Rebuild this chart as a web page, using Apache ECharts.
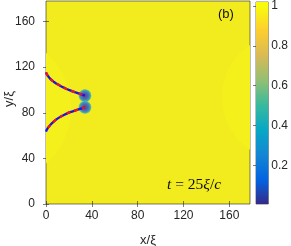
<!DOCTYPE html>
<html><head><meta charset="utf-8">
<script src="https://cdn.jsdelivr.net/npm/echarts@6/dist/echarts.min.js"></script>
<style>html,body{margin:0;padding:0;background:#fff}#c{width:291px;height:246px}</style>
</head><body><div id="c"></div>
<script>
// ---- data ----
const xTicks = [0, 40, 80, 120, 160];
const yTicks = [0, 40, 80, 120, 160];
const cbTicks = [0.2, 0.4, 0.6, 0.8, 1];
const axisRange = [0, 178];
const cbRange = [0.005, 1.02];
// vortex cores [x, y]
const vortices = [[34, 95], [34, 84.8]];
// upper string (domain wall) from left edge to upper vortex
const upperString = [[0,115.5],[1.5,112.5],[4,109.5],[7,107],[11,104.5],[16,101.8],[21,99.6],[27,97.5],[34,95]];
// lower string from left edge to lower vortex
const lowerString = [[0,63.5],[1.5,66.5],[4,69.5],[7,72.5],[11,75.5],[16,78.3],[21,80.5],[27,82.5],[34,84.8]];
// faint radiation fronts: [cx, cy, radius]
const fronts = [[-42, 84, 64], [208.6, 93.5, 55]];
// parula colormap stops [value, color]
const parula = [[0,'#352A87'],[0.125,'#0363E1'],[0.25,'#1485D4'],[0.375,'#06A7C6'],[0.5,'#38B99E'],[0.625,'#92BF73'],[0.75,'#D9BA56'],[0.875,'#FCCE2E'],[1,'#F9FB0E']];

const chart = echarts.init(document.getElementById('c'), null, {renderer:'canvas'});
const txt = '#262626';
const frame = 'rgba(38,38,38,0.6)';
const tickCommon = {show:true, inside:true, length:3, lineStyle:{color:frame, width:1}};
function mkX(pos, labels){
  return {type:'value', gridIndex:0, position:pos, min:axisRange[0], max:axisRange[1], interval:40,
    axisLine:{show:false}, splitLine:{show:false},
    axisTick:Object.assign({customValues:xTicks}, tickCommon),
    axisLabel:{show:labels, customValues:xTicks, color:txt, fontSize:12, fontFamily:'Liberation Sans', margin:6}};
}
function mkY(pos, labels){
  return {type:'value', gridIndex:0, position:pos, min:axisRange[0], max:axisRange[1], interval:40,
    axisLine:{show:false}, splitLine:{show:false},
    axisTick:Object.assign({customValues:yTicks}, tickCommon),
    axisLabel:{show:labels, customValues:yTicks, color:txt, fontSize:12, fontFamily:'Liberation Sans', margin:11}};
}
const span = cbRange[1]-cbRange[0];
const cbStops = parula.map(([v,c]) => ({offset:Math.max(0,(v-cbRange[0])/span), color:c}));
cbStops.push({offset:1, color:'#F9FB0E'});

const option = {
  animation:false,
  grid:[
    {left:46, top:1, width:204, height:203, show:true, backgroundColor:'#F2EC1E', borderColor:frame, borderWidth:1},
    {left:256, top:1, width:13, height:203, show:true, borderColor:frame, borderWidth:1}
  ],
  xAxis:[ mkX('bottom', true), mkX('top', false),
    {type:'value', gridIndex:1, min:0, max:1, show:false}],
  yAxis:[ mkY('left', true), mkY('right', false),
    {type:'value', gridIndex:1, position:'right', min:cbRange[0], max:cbRange[1],
     axisLine:{show:false}, splitLine:{show:false},
     axisTick:{show:true, inside:true, length:3, customValues:cbTicks, lineStyle:{color:frame}},
     axisLabel:{customValues:cbTicks, color:txt, fontSize:12, fontFamily:'Liberation Sans', margin:3}}],
  series:[
    {type:'custom', xAxisIndex:0, yAxisIndex:0, clip:true, silent:true, z:1,
     data:fronts,
     renderItem:(params, api)=>{
       const c = api.coord([api.value(0), api.value(1)]);
       const r = api.size([api.value(2), 0])[0];
       return {type:'circle', shape:{cx:c[0], cy:c[1], r:r}, style:{fill:'#F4F01C'}};
     }},
    {type:'scatter', xAxisIndex:0, yAxisIndex:0, z:3, symbolSize:14, silent:true,
     data:vortices,
     itemStyle:{color:new echarts.graphic.RadialGradient(0.5,0.5,0.5,[
       {offset:0, color:'#36288F'},{offset:0.35, color:'#2B3AD0'},{offset:0.6, color:'#1668DD'},
       {offset:0.78, color:'#1A98D4'},{offset:0.9, color:'rgba(70,185,170,0.7)'},{offset:1, color:'rgba(242,236,30,0)'}])}},
    {type:'line', xAxisIndex:0, yAxisIndex:0, z:4, data:upperString, smooth:true, symbol:'none', lineStyle:{color:'#1515E8', width:2.3}},
    {type:'line', xAxisIndex:0, yAxisIndex:0, z:5, data:upperString, smooth:true, symbol:'none', lineStyle:{color:'#F0141E', width:2.3, type:[4,4]}},
    {type:'line', xAxisIndex:0, yAxisIndex:0, z:4, data:lowerString, smooth:true, symbol:'none', lineStyle:{color:'#1515E8', width:2.3}},
    {type:'line', xAxisIndex:0, yAxisIndex:0, z:5, data:lowerString, smooth:true, symbol:'none', lineStyle:{color:'#F0141E', width:2.3, type:[4,4], dashOffset:4}},
    {type:'custom', xAxisIndex:2, yAxisIndex:2, silent:true, z:1, data:[[0, 1]],
     renderItem:(params, api)=>{
       const p0 = api.coord([0, cbRange[0]]);
       const p1 = api.coord([1, cbRange[1]]);
       return {type:'rect', shape:{x:p0[0], y:p1[1], width:p1[0]-p0[0], height:p0[1]-p1[1]},
         style:{fill:new echarts.graphic.LinearGradient(0,1,0,0,cbStops)}};
     }}
  ],
  graphic:[
    {type:'text', left:218, top:8, z:10, style:{text:'(b)', fontSize:13, fontFamily:'Liberation Sans', fill:'#111'}},
    {type:'text', x:148, y:240, z:10, style:{text:'x/ξ', fontSize:13, fontFamily:'Liberation Sans', fill:txt, align:'center', verticalAlign:'middle'}},
    {type:'text', x:9, y:99, rotation:Math.PI/2, z:10, style:{text:'y/ξ', fontSize:13, fontFamily:'Liberation Sans', fill:txt, align:'center', verticalAlign:'middle'}},
    {type:'text', x:167, y:185, z:10, style:{
      text:'{i|t}{n| = 25}{i|ξ}{n|/}{i|c}', verticalAlign:'middle',
      rich:{i:{fontSize:15.5, fontStyle:'italic', fontFamily:'Liberation Serif', fill:'#111'},
            n:{fontSize:15.5, fontFamily:'Liberation Serif', fill:'#111'}}}}
  ]
};
chart.setOption(option);
</script></body></html>
